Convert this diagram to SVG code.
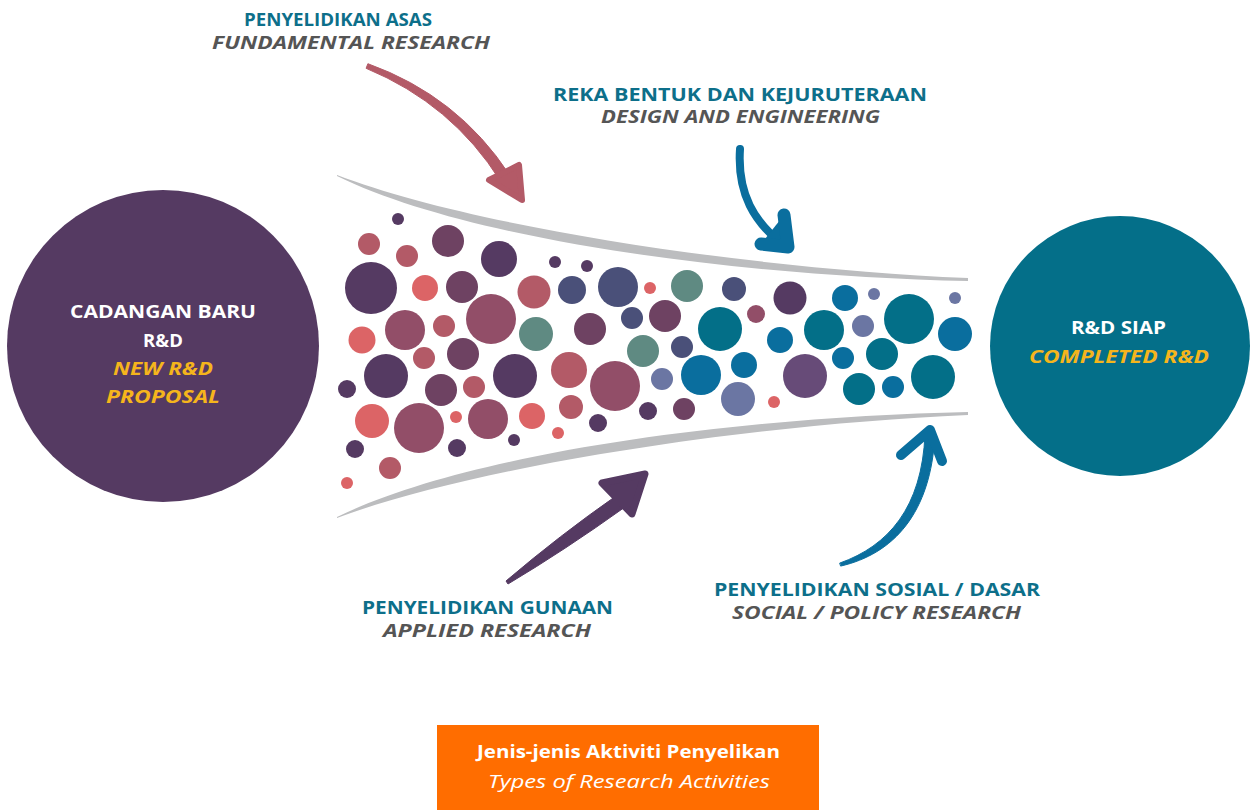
<svg xmlns="http://www.w3.org/2000/svg" width="1250" height="810" viewBox="0 0 1250 810">
<style>
.h{font-family:"Open Sans","Liberation Sans",sans-serif;font-weight:700;font-size:18px;fill:#0d6f8a}
.s{font-family:"Open Sans","Liberation Sans",sans-serif;font-weight:700;font-style:italic;font-size:18px;fill:#555555}
.w{font-family:"Open Sans","Liberation Sans",sans-serif;font-weight:700;font-size:18.5px;fill:#ffffff}
.y{font-family:"Open Sans","Liberation Sans",sans-serif;font-weight:700;font-style:italic;font-size:18.5px;fill:#f5b51c}
.b1{font-family:"Open Sans","Liberation Sans",sans-serif;font-weight:700;font-size:18px;fill:#ffffff}
.b2{font-family:"Open Sans","Liberation Sans",sans-serif;font-weight:400;font-style:italic;font-size:19px;fill:#ffffff}
.band{fill:#bcbdbf}
.c1{fill:#553a62}.c2{fill:#b35a67}.c3{fill:#6e4262}.c4{fill:#dc6466}.c5{fill:#924e68}
.c6{fill:#4a5079}.c7{fill:#5f8a82}.c8{fill:#036f88}.c9{fill:#0a6e9e}.c10{fill:#6b76a3}.c11{fill:#674b78}
</style>
<rect width="1250" height="810" fill="#ffffff"/>

<g id="funnel">
<path class="band" d="M337,175 C470,226 740,268 968,278 L968,281 C740,276 470,241 337,176 Z"/>
<path class="band" d="M337,517 C470,452 740,417 968,412 L968,415 C740,425 470,468 337,518 Z"/>
</g>

<g id="bubbles">
<circle class="c1" cx="398" cy="219" r="6"/>
<circle class="c2" cx="369" cy="244" r="11"/>
<circle class="c2" cx="407" cy="256" r="11"/>
<circle class="c3" cx="448" cy="241" r="16"/>
<circle class="c1" cx="499" cy="259" r="18"/>
<circle class="c1" cx="371" cy="288" r="26"/>
<circle class="c4" cx="425" cy="288" r="13"/>
<circle class="c3" cx="462" cy="287" r="16"/>
<circle class="c5" cx="491" cy="319" r="25"/>
<circle class="c2" cx="534" cy="292" r="16.5"/>
<circle class="c1" cx="555" cy="262" r="6"/>
<circle class="c1" cx="587" cy="266" r="6"/>
<circle class="c6" cx="572" cy="290" r="14"/>
<circle class="c6" cx="618" cy="287" r="20"/>
<circle class="c4" cx="650" cy="288" r="6"/>
<circle class="c6" cx="632" cy="318" r="11"/>
<circle class="c4" cx="362" cy="340" r="13.5"/>
<circle class="c5" cx="405" cy="330" r="20"/>
<circle class="c2" cx="444" cy="326" r="11"/>
<circle class="c7" cx="536" cy="334" r="17"/>
<circle class="c3" cx="590" cy="329" r="16"/>
<circle class="c7" cx="643" cy="351" r="16"/>
<circle class="c2" cx="424" cy="358" r="11"/>
<circle class="c3" cx="463" cy="354" r="16"/>
<circle class="c1" cx="386" cy="376" r="22"/>
<circle class="c1" cx="515" cy="376" r="22"/>
<circle class="c2" cx="569" cy="370" r="18"/>
<circle class="c5" cx="615" cy="386" r="25"/>
<circle class="c1" cx="347" cy="389" r="9"/>
<circle class="c3" cx="441" cy="390" r="16"/>
<circle class="c2" cx="474" cy="387" r="11"/>
<circle class="c2" cx="571" cy="407" r="12"/>
<circle class="c1" cx="648" cy="411" r="9"/>
<circle class="c4" cx="372" cy="421" r="17"/>
<circle class="c5" cx="419" cy="428" r="25"/>
<circle class="c4" cx="456" cy="417" r="6"/>
<circle class="c5" cx="488" cy="419" r="20"/>
<circle class="c4" cx="532" cy="416" r="13"/>
<circle class="c1" cx="598" cy="423" r="9"/>
<circle class="c4" cx="558" cy="433" r="6"/>
<circle class="c1" cx="514" cy="440" r="6"/>
<circle class="c1" cx="355" cy="449" r="9"/>
<circle class="c1" cx="457" cy="448" r="9"/>
<circle class="c2" cx="390" cy="468" r="11"/>
<circle class="c4" cx="347" cy="483" r="6"/>
<circle class="c7" cx="687" cy="286" r="16"/>
<circle class="c6" cx="734" cy="289" r="12"/>
<circle class="c3" cx="665" cy="316" r="16"/>
<circle class="c8" cx="720" cy="329" r="22"/>
<circle class="c5" cx="756" cy="314" r="9"/>
<circle class="c6" cx="682" cy="347" r="11"/>
<circle class="c10" cx="662" cy="379" r="11"/>
<circle class="c9" cx="701" cy="375" r="20"/>
<circle class="c9" cx="744" cy="365" r="13"/>
<circle class="c10" cx="738" cy="399" r="17"/>
<circle class="c4" cx="774" cy="402" r="6"/>
<circle class="c3" cx="684" cy="409" r="11"/>
<circle class="c1" cx="790" cy="298" r="16.5"/>
<circle class="c9" cx="780" cy="340" r="13"/>
<circle class="c8" cx="824" cy="330" r="20"/>
<circle class="c11" cx="805" cy="376" r="22"/>
<circle class="c9" cx="845" cy="298" r="13"/>
<circle class="c10" cx="874" cy="294" r="6"/>
<circle class="c10" cx="863" cy="326" r="11"/>
<circle class="c9" cx="843" cy="358" r="11"/>
<circle class="c8" cx="882" cy="354" r="16"/>
<circle class="c8" cx="859" cy="389" r="16"/>
<circle class="c9" cx="893" cy="387" r="11"/>
<circle class="c8" cx="909" cy="319" r="25"/>
<circle class="c10" cx="955" cy="298" r="6"/>
<circle class="c9" cx="955" cy="334" r="17"/>
<circle class="c8" cx="933" cy="377" r="22"/>
</g>

<g id="node-new">
<circle cx="163" cy="346" r="156" fill="#553a62"/>
<text class="w" x="70" y="318" textLength="186" lengthAdjust="spacingAndGlyphs">CADANGAN BARU</text>
<text class="w" x="163" y="346.5" text-anchor="middle">R&amp;D</text>
<text class="y" x="113" y="375" textLength="100" lengthAdjust="spacingAndGlyphs">NEW R&amp;D</text>
<text class="y" x="106" y="402.5" textLength="114" lengthAdjust="spacingAndGlyphs">PROPOSAL</text>
</g>

<g id="node-completed">
<circle cx="1120" cy="346" r="130" fill="#046f89"/>
<text class="w" x="1071" y="334" textLength="95" lengthAdjust="spacingAndGlyphs">R&amp;D SIAP</text>
<text class="y" x="1029" y="362.5" textLength="180" lengthAdjust="spacingAndGlyphs">COMPLETED R&amp;D</text>
</g>

<g id="connectors">
<g id="arrow-fundamental" fill="#b35a67" stroke="#b35a67" stroke-linejoin="round">
<path d="M367.9,63.7 Q458,96 509.6,175 L500.4,181 Q452,104 366.1,68.3 Z" stroke-width="1"/>
<path d="M489,180 L519,165 L522,200 Z" stroke-width="6"/>
</g>
<g id="arrow-design" stroke="#0a6e9e" fill="none" stroke-linecap="round" stroke-linejoin="round">
<path d="M740,149 C737,195 755,222 782,244" stroke-width="8"/>
<path d="M784,215 L788,247 L761,244" stroke-width="13" fill="#0a6e9e"/>
</g>
<g id="arrow-applied" fill="#553a62" stroke="#553a62" stroke-linejoin="round">
<path d="M506,581 Q560,535 616,496 L625,507 Q565,550 508,584 Z" stroke-width="1"/>
<path d="M602,483 L645,474 L632,514 Z" stroke-width="7"/>
</g>
<g id="arrow-social" fill="#0a6e9e" stroke="#0a6e9e" stroke-linejoin="round" stroke-linecap="round">
<path d="M840,563 C888,546 922,508 925,434 L935,434 C931,514 893,554 841,566 Z" stroke-width="1"/>
<path d="M901,455 L930,430 L942,461" fill="none" stroke-width="10"/>
</g>
</g>

<g id="label-fundamental">
<text class="h" x="244" y="26" textLength="188" lengthAdjust="spacingAndGlyphs">PENYELIDIKAN ASAS</text>
<text class="s" x="212" y="49" textLength="278" lengthAdjust="spacingAndGlyphs">FUNDAMENTAL RESEARCH</text>
</g>
<g id="label-design">
<text class="h" x="553" y="101" textLength="374" lengthAdjust="spacingAndGlyphs">REKA BENTUK DAN KEJURUTERAAN</text>
<text class="s" x="601" y="123" textLength="279" lengthAdjust="spacingAndGlyphs">DESIGN AND ENGINEERING</text>
</g>
<g id="label-applied">
<text class="h" x="362" y="614" textLength="251" lengthAdjust="spacingAndGlyphs">PENYELIDIKAN GUNAAN</text>
<text class="s" x="383" y="637" textLength="208" lengthAdjust="spacingAndGlyphs">APPLIED RESEARCH</text>
</g>
<g id="label-social">
<text class="h" x="714" y="596" textLength="326" lengthAdjust="spacingAndGlyphs">PENYELIDIKAN SOSIAL / DASAR</text>
<text class="s" x="732" y="619" textLength="289" lengthAdjust="spacingAndGlyphs">SOCIAL / POLICY RESEARCH</text>
</g>

<g id="caption">
<rect x="437" y="725" width="382" height="85" fill="#ff6d00"/>
<text class="b1" x="477" y="758" textLength="303" lengthAdjust="spacingAndGlyphs">Jenis-jenis Aktiviti Penyelikan</text>
<text class="b2" x="488" y="788" textLength="282" lengthAdjust="spacingAndGlyphs">Types of Research Activities</text>
</g>
</svg>
